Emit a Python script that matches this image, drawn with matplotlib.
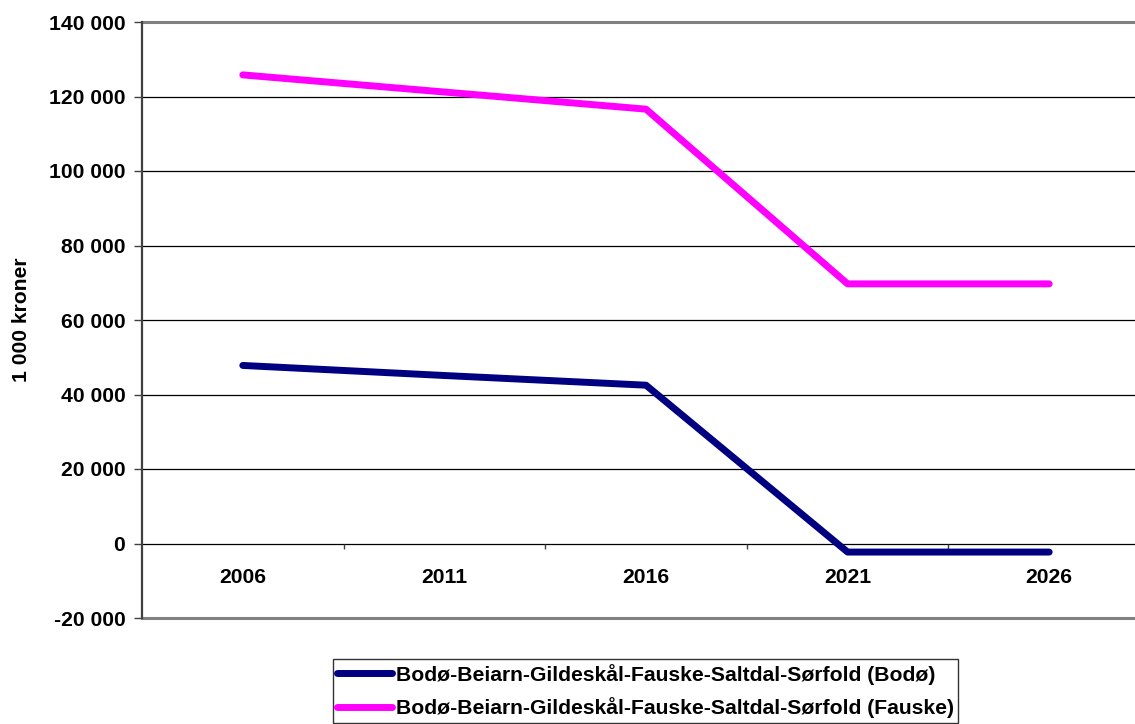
import matplotlib
matplotlib.use("Agg")
import matplotlib.pyplot as plt

plt.rcParams['font.family'] = ['Liberation Sans', 'DejaVu Sans']
plt.rcParams['font.weight'] = 'bold'

years = ["2006", "2011", "2016", "2021", "2026"]
bodo = [47.8, 45.1, 42.5, -2.3, -2.3]          # thousands of 1 000 kroner
fauske = [125.8, 121.2, 116.6, 69.7, 69.7]
series_labels = [
    "Bodø-Beiarn-Gildeskål-Fauske-Saltdal-Sørfold (Bodø)",
    "Bodø-Beiarn-Gildeskål-Fauske-Saltdal-Sørfold (Fauske)",
]
ytick_values = list(range(-20000, 140001, 20000))
ytick_labels = ["-20 000", "0", "20 000", "40 000", "60 000", "80 000",
                "100 000", "120 000", "140 000"]

FS = 15.2
W, H = 1135, 724
fig = plt.figure(figsize=(W / 100, H / 100), dpi=100)
ax = fig.add_axes([142 / W, 106 / H, 1008 / W, 596 / H])

x = list(range(len(years)))
l1, = ax.plot(x, [v * 1000 for v in bodo], color="#000080", lw=5,
              solid_capstyle="round", solid_joinstyle="round", zorder=4)
l2, = ax.plot(x, [v * 1000 for v in fauske], color="#FF00FF", lw=5,
              solid_capstyle="round", solid_joinstyle="round", zorder=4)

ax.set_xlim(-0.5, len(years) - 0.5)
ax.set_ylim(-20000, 140000)

# horizontal gridlines
for v in ytick_values[1:-1]:
    ax.axhline(v, color="black", lw=0.9, zorder=2)
for v in (ytick_values[0], ytick_values[-1]):
    ax.axhline(v, color="#808080", lw=2.2, zorder=2, clip_on=False)

for s in ("top", "right", "bottom"):
    ax.spines[s].set_visible(False)
ax.spines["left"].set_color("#404040")
ax.spines["left"].set_linewidth(1.6)

ax.set_yticks(ytick_values)
ax.set_yticklabels(ytick_labels, fontsize=FS, fontweight="bold")
ax.tick_params(axis="y", length=6, width=1, color="#404040", pad=6)
ax.set_xticks([])

# category labels under the zero line
for i, yr in enumerate(years):
    ax.text(i, -9000, yr, ha="center", va="center", fontsize=FS,
            fontweight="bold")
# category divider ticks on the zero line
ax.vlines([i + 0.5 for i in range(len(years) - 1)], -1400, 0,
          color="#404040", lw=1, zorder=3)

ax.set_ylabel("1 000 kroner", fontsize=FS, fontweight="bold")
ax.yaxis.set_label_coords(-111 / 1008, 0.5)

leg = fig.legend([l1, l2], series_labels, loc="center",
                 bbox_to_anchor=(645.5 / W, (H - 691) / H), ncol=1,
                 prop={"size": FS, "weight": "bold"}, frameon=True,
                 fancybox=False, edgecolor="black", handlelength=2.6,
                 handletextpad=0.15, borderpad=0.22, labelspacing=0.6,
                 borderaxespad=0)
leg.get_frame().set_linewidth(1.0)

fig.savefig("out.png", dpi=100)
